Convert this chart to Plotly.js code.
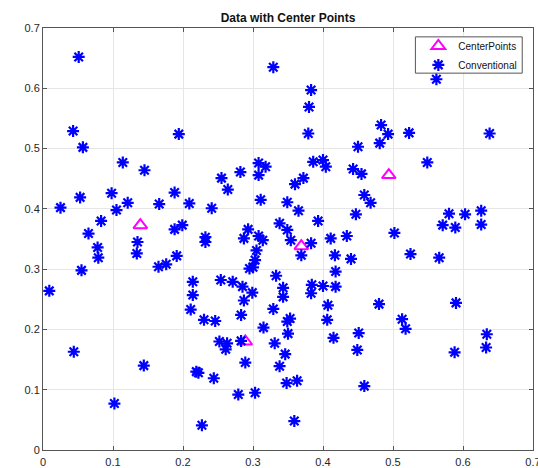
<!DOCTYPE html>
<html>
<head>
<meta charset="utf-8">
<script src="https://cdn.plot.ly/plotly-3.0.1.min.js"></script>
<style>
  html, body { margin: 0; padding: 0; background: #fff; }
  #chart { width: 538px; height: 468px; }
</style>
</head>
<body>
<div id="chart"></div>
<script>
// Center point runs
const centerX = [0.139, 0.289, 0.369, 0.494];
const centerY = [0.373, 0.180, 0.338, 0.456];

// Conventional runs
const convX = [
  0.051, 0.329, 0.383, 0.380, 0.379, 0.450, 0.386, 0.400, 0.404, 0.308,
  0.318, 0.282, 0.443, 0.043, 0.057, 0.194, 0.114, 0.145, 0.562, 0.483,
  0.493, 0.523, 0.638, 0.481, 0.549, 0.053, 0.098, 0.025, 0.105, 0.121,
  0.166, 0.188, 0.209, 0.083, 0.065, 0.078, 0.079, 0.188, 0.199, 0.135,
  0.134, 0.191, 0.165, 0.176, 0.055, 0.009, 0.214, 0.214, 0.211, 0.308,
  0.255, 0.264, 0.360, 0.372, 0.311, 0.349, 0.365, 0.393, 0.447, 0.241,
  0.338, 0.349, 0.354, 0.293, 0.287, 0.308, 0.314, 0.232, 0.232, 0.369,
  0.383, 0.411, 0.434, 0.417, 0.440, 0.305, 0.303, 0.300, 0.295, 0.418,
  0.254, 0.271, 0.285, 0.299, 0.333, 0.343, 0.343, 0.384, 0.383, 0.400,
  0.418, 0.287, 0.329, 0.407, 0.455, 0.459, 0.468, 0.580, 0.603, 0.626,
  0.571, 0.589, 0.626, 0.502, 0.525, 0.566, 0.480, 0.590, 0.044, 0.144,
  0.102, 0.219, 0.227, 0.230, 0.246, 0.283, 0.315, 0.349, 0.353, 0.350,
  0.406, 0.415, 0.451, 0.449, 0.252, 0.263, 0.261, 0.283, 0.331, 0.346,
  0.338, 0.289, 0.222, 0.244, 0.348, 0.363, 0.279, 0.303, 0.359, 0.513,
  0.518, 0.588, 0.634, 0.633, 0.459
];
const convY = [
  0.652, 0.635, 0.597, 0.569, 0.525, 0.503, 0.478, 0.481, 0.470, 0.476,
  0.470, 0.461, 0.466, 0.529, 0.502, 0.524, 0.477, 0.464, 0.615, 0.539,
  0.524, 0.526, 0.525, 0.509, 0.477, 0.419, 0.426, 0.402, 0.398, 0.410,
  0.408, 0.427, 0.409, 0.380, 0.359, 0.336, 0.319, 0.366, 0.373, 0.345,
  0.326, 0.322, 0.304, 0.308, 0.298, 0.264, 0.279, 0.257, 0.233, 0.456,
  0.451, 0.432, 0.441, 0.451, 0.415, 0.411, 0.397, 0.380, 0.391, 0.401,
  0.376, 0.365, 0.348, 0.366, 0.351, 0.355, 0.348, 0.353, 0.345, 0.323,
  0.343, 0.351, 0.355, 0.323, 0.317, 0.331, 0.315, 0.303, 0.301, 0.296,
  0.282, 0.279, 0.271, 0.261, 0.289, 0.269, 0.254, 0.274, 0.260, 0.272,
  0.271, 0.248, 0.234, 0.240, 0.458, 0.423, 0.410, 0.392, 0.391, 0.397,
  0.373, 0.369, 0.374, 0.360, 0.325, 0.319, 0.242, 0.244, 0.163, 0.140,
  0.077, 0.130, 0.041, 0.216, 0.214, 0.224, 0.203, 0.213, 0.218, 0.193,
  0.216, 0.186, 0.194, 0.166, 0.180, 0.177, 0.167, 0.181, 0.177, 0.159,
  0.139, 0.145, 0.128, 0.119, 0.111, 0.115, 0.092, 0.095, 0.048, 0.217,
  0.201, 0.162, 0.192, 0.170, 0.106
];

const tickVals = [0, 0.1, 0.2, 0.3, 0.4, 0.5, 0.6, 0.7];
const tickText = ['0', '0.1', '0.2', '0.3', '0.4', '0.5', '0.6', '0.7'];

const FONT = 'Liberation Sans, Arial, Helvetica, sans-serif';

const traces = [
  {
    x: centerX, y: centerY, name: 'CenterPoints',
    type: 'scatter', mode: 'markers',
    marker: { symbol: 'triangle-up-open', size: 12, color: '#FF00FF',
              line: { color: '#FF00FF', width: 2 } }
  },
  {
    x: convX, y: convY, name: 'Conventional',
    type: 'scatter', mode: 'markers',
    marker: { symbol: 'asterisk-open', size: 10, color: '#0000FF',
              line: { color: '#0000FF', width: 2.2 } }
  }
];

const axisBase = {
  range: [0, 0.7],
  tickvals: tickVals,
  ticktext: tickText,
  ticks: 'inside',
  ticklen: 4,
  tickcolor: '#555',
  showline: true,
  linecolor: '#555',
  linewidth: 1,
  mirror: 'ticks',
  showgrid: true,
  gridcolor: '#e6e6e6',
  gridwidth: 1,
  zeroline: false,
  ticklabeloverflow: 'allow',
  tickfont: { family: FONT, size: 11, color: '#262626' },
  fixedrange: true
};

const layout = {
  width: 538,
  height: 468,
  margin: { l: 43, r: 5, t: 28, b: 18 },
  paper_bgcolor: '#ffffff',
  plot_bgcolor: '#ffffff',
  title: {
    text: '<b>Data with Center Points</b>',
    font: { family: FONT, size: 12, color: '#111' },
    x: 0.5, xanchor: 'center', xref: 'paper',
    y: 1, yref: 'paper', yanchor: 'bottom', pad: { b: 6 }
  },
  xaxis: Object.assign({}, axisBase, { ticklabelstandoff: 2 }),
  yaxis: Object.assign({}, axisBase),
  // Compact legend frame drawn behind the legend entries
  shapes: [{
    type: 'rect', xref: 'paper', yref: 'paper', layer: 'above',
    x0: 0.760, x1: 0.978, y0: 0.893, y1: 0.979,
    fillcolor: '#ffffff', line: { color: '#555', width: 1 }
  }],
  showlegend: true,
  legend: {
    x: 0.766, xanchor: 'left', y: 0.992, yanchor: 'top',
    bgcolor: 'rgba(0,0,0,0)', borderwidth: 0,
    font: { family: FONT, size: 10, color: '#111' },
    tracegroupgap: 0, itemwidth: 30
  }
};

Plotly.newPlot('chart', traces, layout, { staticPlot: true, displayModeBar: false });
</script>
</body>
</html>
